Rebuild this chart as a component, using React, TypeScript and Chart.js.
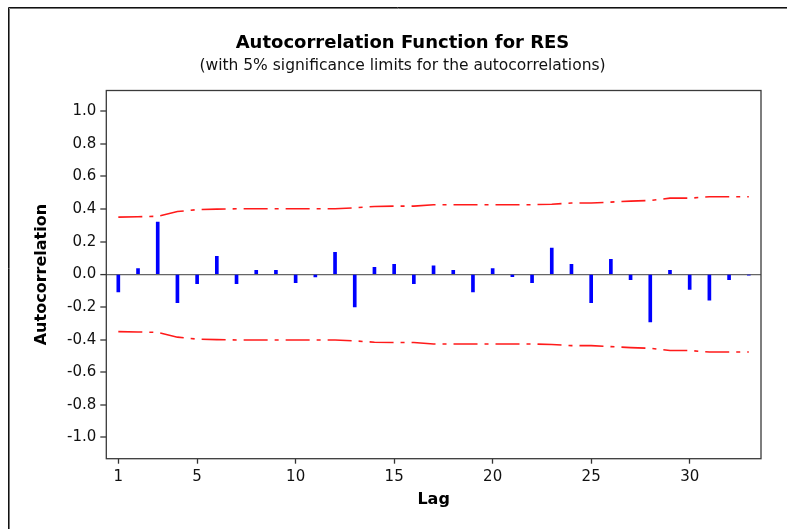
import React, { useEffect, useRef } from "react";
import { Chart, registerables } from "chart.js";

Chart.register(...registerables);

const lags: number[] = Array.from({ length: 33 }, (_, i) => i + 1);
const acfValues: number[] = [
  -0.108, 0.035, 0.32, -0.173, -0.057, 0.11, -0.057, 0.024, 0.024, -0.051, -0.016,
  0.135, -0.2, 0.043, 0.061, -0.057, 0.053, 0.024, -0.108, 0.035, -0.014, -0.051,
  0.161, 0.061, -0.173, 0.092, -0.033, -0.292, 0.024, -0.092, -0.159, -0.033, -0.005,
];
const upperLimit: number[] = [
  0.351, 0.353, 0.356, 0.385, 0.397, 0.4, 0.402, 0.402, 0.402, 0.402, 0.402,
  0.402, 0.408, 0.416, 0.418, 0.418, 0.427, 0.427, 0.427, 0.427, 0.427, 0.427,
  0.43, 0.437, 0.437, 0.443, 0.449, 0.453, 0.467, 0.467, 0.476, 0.476, 0.476,
];
const xTickValues: number[] = [1, 5, 10, 15, 20, 25, 30];
const yTickValues: number[] = [-1.0, -0.8, -0.6, -0.4, -0.2, 0.0, 0.2, 0.4, 0.6, 0.8, 1.0];

const titleText = "Autocorrelation Function for RES";
const subtitleText = "(with 5% significance limits for the autocorrelations)";
const xTitle = "Lag";
const yTitle = "Autocorrelation";

const FONT = "'DejaVu Sans', sans-serif";

export default function App() {
  const ref = useRef<HTMLCanvasElement | null>(null);

  useEffect(() => {
    if (!ref.current) return;
    const framePlugin = {
      id: "frameAndText",
      beforeDraw(chart: any) {
        const ctx = chart.ctx;
        ctx.save();
        ctx.fillStyle = "#ffffff";
        ctx.fillRect(0, 0, chart.width, chart.height);
        ctx.strokeStyle = "#111111";
        ctx.lineWidth = 1;
        ctx.beginPath();
        ctx.moveTo(8.5, chart.height);
        ctx.lineTo(8.5, 7.5);
        ctx.lineTo(chart.width, 7.5);
        ctx.stroke();
        ctx.strokeStyle = "#777777";
        ctx.beginPath();
        ctx.moveTo(9.5, chart.height);
        ctx.lineTo(9.5, 8.5);
        ctx.lineTo(chart.width, 8.5);
        ctx.stroke();
        ctx.restore();
      },
      afterDraw(chart: any) {
        const ctx = chart.ctx;
        const a = chart.chartArea;
        ctx.save();
        ctx.strokeStyle = "#3a3a3a";
        ctx.lineWidth = 1.3;
        ctx.strokeRect(a.left, a.top, a.right - a.left, a.bottom - a.top);
        ctx.fillStyle = "#000000";
        ctx.textAlign = "center";
        ctx.textBaseline = "middle";
        ctx.font = `bold 18px ${FONT}`;
        ctx.fillText(titleText, 402.5, 43);
        ctx.font = `15.5px ${FONT}`;
        ctx.fillStyle = "#111111";
        ctx.fillText(subtitleText, 402.5, 66);
        ctx.fillStyle = "#000000";
        ctx.font = `bold 16px ${FONT}`;
        ctx.fillText(xTitle, (a.left + a.right) / 2, 500);
        ctx.translate(42, (a.top + a.bottom) / 2);
        ctx.rotate(-Math.PI / 2);
        ctx.fillText(yTitle, 0, 0);
        ctx.restore();
      },
    };

    const limitStyle = {
      type: "line",
      borderColor: "#ff1a1a",
      borderWidth: 1.6,
      borderDash: [24, 7, 4, 7],
      pointRadius: 0,
      tension: 0,
      fill: false,
    };

    const chart = new Chart(ref.current, {
      type: "bar",
      data: {
        datasets: [
          {
            ...limitStyle,
            data: lags.map((l, i) => ({ x: l, y: upperLimit[i] })),
          } as any,
          {
            ...limitStyle,
            data: lags.map((l, i) => ({ x: l, y: -upperLimit[i] })),
          } as any,
          {
            type: "bar",
            data: lags.map((l, i) => ({ x: l, y: acfValues[i] })),
            backgroundColor: "#0000ff",
            borderWidth: 0,
            barThickness: 3,
          } as any,
        ],
      },
      options: {
        responsive: false,
        animation: false,
        events: [],
        layout: { padding: { left: 0, right: 26, top: 90.5, bottom: 0 } },
        plugins: {
          legend: { display: false },
          title: { display: false },
          tooltip: { enabled: false },
        },
        scales: {
          x: {
            type: "linear",
            min: 0.39,
            max: 33.62,
            offset: false,
            border: { display: false },
            grid: {
              offset: false,
              drawOnChartArea: false,
              drawTicks: true,
              tickLength: 5,
              tickColor: "#333333",
              tickWidth: 1.3,
            },
            ticks: {
              font: { family: FONT, size: 15 },
              color: "#111111",
              padding: 4,
              maxRotation: 0,
              autoSkip: false,
              callback: (v: any) => String(v),
            },
            afterBuildTicks: (scale: any) => {
              scale.ticks = xTickValues.map((v) => ({ value: v }));
            },
            afterFit: (scale: any) => {
              scale.height = 529 - 458.7;
            },
          },
          y: {
            type: "linear",
            min: -1.13,
            max: 1.127,
            border: { display: false },
            grid: {
              drawOnChartArea: true,
              color: (c: any) => (c.tick && Math.abs(c.tick.value) < 1e-9 ? "#666666" : "rgba(0,0,0,0)"),
              lineWidth: (c: any) => (c.tick && Math.abs(c.tick.value) < 1e-9 ? 1.2 : 0),
              tickLength: 6,
              tickColor: "#333333",
              tickWidth: 1.3,
            },
            ticks: {
              font: { family: FONT, size: 15 },
              color: "#111111",
              padding: 4,
              autoSkip: false,
              callback: (v: any) => {
                const n = Number(v);
                return (Math.abs(n) < 1e-9 ? 0 : n).toFixed(1);
              },
            },
            afterBuildTicks: (scale: any) => {
              scale.ticks = yTickValues.map((v) => ({ value: v }));
            },
            afterFit: (scale: any) => {
              scale.width = 106.3;
            },
          },
        },
      },
      plugins: [framePlugin],
    } as any);

    return () => chart.destroy();
  }, []);

  return (
    <div style={{ position: "absolute", left: 0, top: 0, width: 787, height: 529, background: "#fff" }}>
      <canvas ref={ref} width={787} height={529} style={{ width: 787, height: 529, display: "block" }} />
    </div>
  );
}
